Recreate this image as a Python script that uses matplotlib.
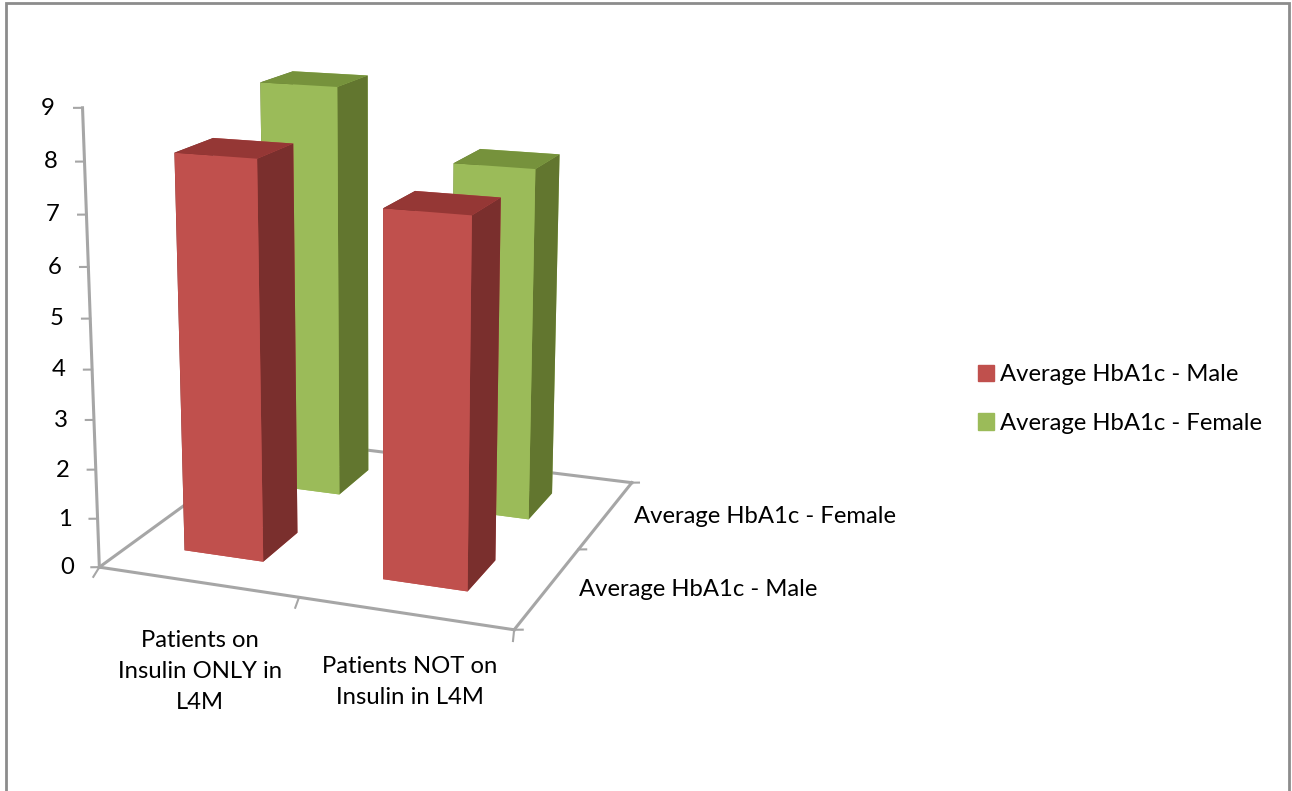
import matplotlib
matplotlib.use("Agg")
import matplotlib.pyplot as plt
from matplotlib.patches import Patch, Rectangle

plt.rcParams['font.family'] = ['Lato', 'DejaVu Sans']

categories = ["Patients on\nInsulin ONLY in\nL4M", "Patients NOT on\nInsulin in L4M"]
series_names = ["Average HbA1c - Male", "Average HbA1c - Female"]
male = [8.0, 7.25]
female = [8.75, 7.35]
z_ticks = [0, 1, 2, 3, 4, 5, 6, 7, 8, 9]

# face order for bar3d: bottom, top, front, back, left, right
red_faces = ["#c0504d", "#953735", "#c0504d", "#c0504d", "#7a2f2d", "#7a2f2d"]
green_faces = ["#9bbb59", "#76923c", "#9bbb59", "#9bbb59", "#62762f", "#62762f"]
axis_col = "#a6a6a6"
bar_w = 0.405
bar_d = 0.40

fig = plt.figure(figsize=(12.92, 7.91), dpi=100)
fig.add_artist(Rectangle((6 / 1292, -0.02), 1283 / 1292, 1.0 - 2.5 / 791 + 0.02,
                         transform=fig.transFigure, fill=False, ec="#8c8c8c", lw=2))

ax = fig.add_axes([-0.0138, 0.1036, 0.6, 0.98], projection="3d", computed_zorder=False)
ax.set_proj_type("persp", focal_length=0.5)
ax.view_init(elev=14.8, azim=-69)
ax.set_box_aspect((431, 434, 460), zoom=0.937)
ax.set_xlim(0, 2)
ax.set_ylim(0, 2)
ax.set_zlim(0, 9)
ax.set_axis_off()

# floor and axis lines
ax.plot([0, 2], [0, 0], [0, 0], color=axis_col, lw=2.2, zorder=1)
ax.plot([2, 2], [0, 2], [0, 0], color=axis_col, lw=2.2, zorder=1)
ax.plot([0, 0], [0, 2], [0, 0], color=axis_col, lw=2.2, zorder=1)
ax.plot([0, 2], [2, 2], [0, 0], color=axis_col, lw=2.2, zorder=1)
ax.plot([0, 0], [0, 0], [0, 9], color=axis_col, lw=2.2, zorder=1)

for z in z_ticks:
    ax.plot([-0.034, 0], [-0.014, 0], [z, z], color=axis_col, lw=1.5, zorder=1)
    ax.text(-0.137, -0.058, z, str(z), ha="center", va="center", fontsize=17.2, color="black")
for x in [0, 1, 2]:
    ax.plot([x, x + 0.031], [0, -0.114], [0, 0], color=axis_col, lw=1.5, zorder=1)
for y in [0, 1, 2]:
    ax.plot([2, 2.034], [y, y + 0.014], [0, 0], color=axis_col, lw=1.5, zorder=1)

# back row first, then the front row
for i, v in enumerate(female):
    ax.bar3d(i + 0.46 - bar_w / 2, 1.50 - bar_d / 2, 0, bar_w, bar_d, v,
             color=green_faces, shade=False, zorder=3 + i)
for i, v in enumerate(male):
    ax.bar3d(i + 0.475 - bar_w / 2, 0.53 - bar_d / 2, 0, bar_w, bar_d, v,
             color=red_faces, shade=False, zorder=6 + i)

# category labels sit a bit off the tick gap, as in the original
ax.text(0.745, -0.478, 0, categories[0], ha="center", va="top", fontsize=17.2, color="black",
        linespacing=1.6, multialignment="center")
ax.text(1.675, -0.408, 0, categories[1], ha="center", va="top", fontsize=17.2, color="black",
        linespacing=1.6, multialignment="center")
for j, s in enumerate(series_names):
    ax.text(2.135, j + 0.527, 0, s, ha="left", va="center", fontsize=17.2, color="black")

handles = [Patch(color="#c0504d"), Patch(color="#9bbb59")]
fig.legend(handles, series_names, loc="center left", bbox_to_anchor=(0.7405, 0.4955),
           frameon=False, fontsize=17.2, handlelength=0.68, handleheight=0.68,
           handletextpad=0.25, labelspacing=1.15)

fig.savefig("out.png", dpi=100)
